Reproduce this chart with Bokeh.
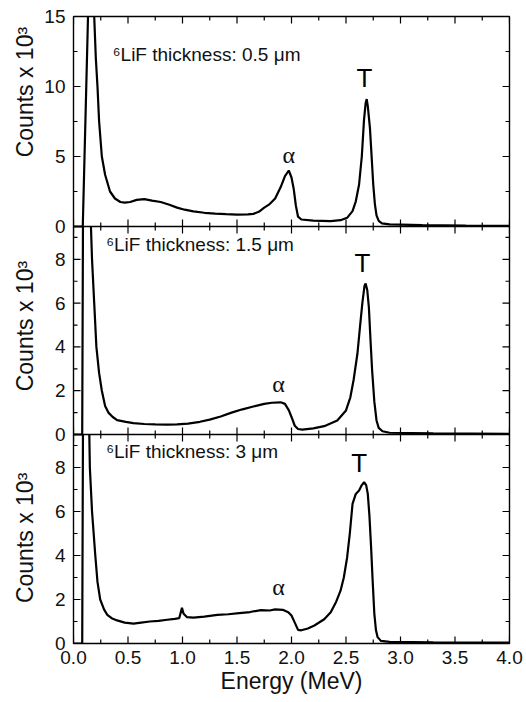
import math
from bokeh.plotting import figure
from bokeh.models import (Range1d, LinearAxis, FixedTicker, Label, Span, PrintfTickFormatter)
from bokeh.embed import file_html
from bokeh.resources import INLINE

# ---------------- data ----------------
energy_05 = [0.0, 0.085, 0.13, 0.16, 0.19, 0.205, 0.22, 0.235, 0.26, 0.29, 0.335, 0.38, 0.43, 0.47,
             0.52, 0.58, 0.65, 0.72, 0.80, 0.88, 0.95, 1.02, 1.10, 1.20, 1.30, 1.40, 1.50, 1.60,
             1.65, 1.70, 1.75, 1.80, 1.85, 1.90, 1.94, 1.975, 2.00, 2.02, 2.04, 2.06, 2.09, 2.20,
             2.36, 2.45, 2.51, 2.56, 2.59, 2.62, 2.645, 2.665, 2.68, 2.69, 2.70, 2.72, 2.735,
             2.75, 2.765, 2.78, 2.80, 2.83, 2.90, 3.20, 3.60, 4.00]
counts_05 = [0.0, 0.0, 14.0, 24.0, 15.0, 12.0, 10.0, 7.5, 5.0, 3.7, 2.5, 2.0, 1.75, 1.7,
             1.75, 1.9, 1.95, 1.85, 1.75, 1.55, 1.35, 1.2, 1.08, 0.98, 0.92, 0.88, 0.85, 0.86,
             0.9, 1.05, 1.35, 1.6, 2.0, 2.8, 3.6, 4.0, 3.5, 2.7, 1.5, 0.7, 0.5, 0.42,
             0.38, 0.45, 0.62, 1.1, 1.8, 3.0, 5.0, 7.6, 8.8, 9.1, 8.6, 7.0, 5.0,
             3.0, 1.6, 0.8, 0.4, 0.22, 0.15, 0.1, 0.06, 0.05]

energy_15 = [0.0, 0.08, 0.09, 0.12, 0.16, 0.17, 0.19, 0.21, 0.235, 0.26, 0.29, 0.32, 0.36, 0.40,
             0.48, 0.55, 0.65, 0.75, 0.86, 0.95, 1.05, 1.16, 1.25, 1.35, 1.45, 1.55, 1.65, 1.75,
             1.82, 1.90, 1.94, 1.976, 2.00, 2.03, 2.06, 2.10, 2.20, 2.30, 2.42, 2.50, 2.54, 2.57,
             2.605, 2.63, 2.65, 2.67, 2.68, 2.695, 2.71, 2.725, 2.74, 2.76, 2.78, 2.80, 2.835,
             2.90, 3.30, 4.00]
counts_15 = [0.0, 0.0, 14.0, 20.0, 9.5, 8.0, 6.0, 4.0, 2.8, 2.0, 1.3, 1.0, 0.8, 0.66,
             0.58, 0.52, 0.48, 0.46, 0.45, 0.46, 0.5, 0.58, 0.68, 0.82, 1.0, 1.15, 1.28, 1.4,
             1.45, 1.47, 1.4, 1.1, 0.8, 0.4, 0.25, 0.22, 0.28, 0.38, 0.64, 1.1, 1.7, 2.5,
             3.7, 5.0, 6.0, 6.8, 6.9, 6.6, 5.8, 4.3, 2.9, 1.5, 0.64, 0.3, 0.15,
             0.08, 0.05, 0.03]

energy_3 = [0.0, 0.08, 0.09, 0.115, 0.145, 0.15, 0.17, 0.20, 0.22, 0.245, 0.28, 0.31, 0.35, 0.40,
            0.47, 0.55, 0.62, 0.70, 0.78, 0.86, 0.93, 0.97, 0.995, 1.01, 1.04, 1.10, 1.20, 1.32,
            1.42, 1.52, 1.62, 1.72, 1.80, 1.85, 1.92, 1.97, 2.00, 2.03, 2.06, 2.09, 2.15, 2.21,
            2.30, 2.36, 2.41, 2.45, 2.48, 2.51, 2.535, 2.56, 2.59, 2.62, 2.645, 2.666, 2.685,
            2.70, 2.715, 2.73, 2.745, 2.76, 2.775, 2.79, 2.82, 2.90, 3.30, 4.00]
counts_3 = [0.0, 0.0, 14.0, 20.0, 9.5, 8.0, 6.0, 4.0, 2.8, 2.0, 1.55, 1.3, 1.15, 1.05,
            0.95, 0.9, 0.95, 1.0, 1.03, 1.08, 1.12, 1.15, 1.62, 1.35, 1.2, 1.18, 1.22, 1.3,
            1.33, 1.38, 1.43, 1.52, 1.5, 1.55, 1.53, 1.42, 1.27, 0.95, 0.62, 0.6, 0.68, 0.82,
            1.1, 1.42, 1.9, 2.4, 3.0, 3.9, 5.0, 6.35, 6.8, 6.95, 7.2, 7.33, 7.2,
            6.8, 5.8, 4.4, 2.8, 1.35, 0.6, 0.29, 0.12, 0.07, 0.05, 0.04]

panel_titles = ["\u2076LiF thickness: 0.5 \u03bcm",
                "\u2076LiF thickness: 1.5 \u03bcm",
                "\u2076LiF thickness: 3 \u03bcm"]
peak_names = ["\u03b1", "T"]
y_max = [15, 9.5, 9.5]
y_major_ticks = [[0, 5, 10, 15], [0, 2, 4, 6, 8], [0, 2, 4, 6, 8]]
y_minor_ticks = [[2.5, 7.5, 12.5], [1, 3, 5, 7, 9], [1, 3, 5, 7, 9]]
x_major_ticks = [0.0, 0.5, 1.0, 1.5, 2.0, 2.5, 3.0, 3.5, 4.0]
x_minor_ticks = [0.25, 0.75, 1.25, 1.75, 2.25, 2.75, 3.25, 3.75]
x_label = "Energy (MeV)"
y_label = "Counts x 10\u00b3"

# ---------------- layout / style ----------------
FONT = "Liberation Sans"
PANEL_H = [210, 208, 209]          # frame pixel height of each stacked panel (top -> bottom)
FRAME_W = 436
FRAME_H = sum(PANEL_H)
RANGE_NAMES = ["default", "mid", "bot"]
YLABEL_CENTER = [9.6, 4.95, 4.8]   # where each panel's y title is centred (panel units)

# pixel offset (from frame bottom) of each panel's zero line
base_px = [PANEL_H[2] + PANEL_H[1], PANEL_H[2], 0]
unit_px = [PANEL_H[i] / y_max[i] for i in range(3)]


def panel_range(i):
    start = -base_px[i] / unit_px[i]
    end = (FRAME_H - base_px[i]) / unit_px[i]
    return Range1d(start, end)


def to_default(i, v):
    """value v of panel i expressed in the coordinates of the default (top-panel) range"""
    pix = base_px[i] + v * unit_px[i]
    return round((pix - base_px[0]) / unit_px[0], 6)


def clip_above(xs, ys, top):
    """geometrically clip a polyline at y = top (NaN breaks where it leaves the panel)"""
    ox, oy = [], []
    for k in range(len(xs)):
        x, y = xs[k], ys[k]
        if k > 0:
            x0, y0 = xs[k - 1], ys[k - 1]
            if (y0 > top) != (y > top):
                t = (top - y0) / (y - y0)
                ox.append(x0 + t * (x - x0))
                oy.append(top)
                if y > top:
                    ox.append(math.nan)
                    oy.append(math.nan)
        if y <= top:
            ox.append(x)
            oy.append(y)
    return ox, oy


p = figure(frame_width=FRAME_W, frame_height=FRAME_H,
           x_range=Range1d(0, 4), y_range=panel_range(0),
           x_axis_location=None, y_axis_location=None,
           toolbar_location=None, output_backend="svg",
           min_border_left=73, min_border_right=15, min_border_top=16, min_border_bottom=0)
p.extra_y_ranges = {"mid": panel_range(1), "bot": panel_range(2)}
p.grid.visible = False
p.outline_line_color = "black"
p.outline_line_width = 1.4
p.background_fill_color = "white"
p.border_fill_color = "white"


def bare_axis(ax):
    ax.axis_line_color = None
    ax.major_tick_line_color = None
    ax.minor_tick_line_color = None
    ax.major_tick_out = 0
    ax.major_tick_in = 0
    ax.minor_tick_out = 0
    ax.minor_tick_in = 0


# left axis 1: tick labels of all three panels
tick_pos, tick_txt = [], {}
for i in range(3):
    for v in y_major_ticks[i]:
        pos = to_default(i, v)
        tick_pos.append(pos)
        tick_txt[pos] = str(v)
left = LinearAxis(ticker=FixedTicker(ticks=tick_pos, minor_ticks=[]))
left.major_label_overrides = tick_txt
bare_axis(left)
left.major_label_standoff = 8
left.major_label_text_font = FONT
left.major_label_text_font_size = "19px"
left.major_label_text_color = "#111111"
p.add_layout(left, "left")

# left axis 2 (outer): one "Counts x 10^3" title per panel
title_pos_y, title_txt = [], {}
for i in range(3):
    pos = to_default(i, YLABEL_CENTER[i])
    title_pos_y.append(pos)
    title_txt[pos] = y_label
left2 = LinearAxis(ticker=FixedTicker(ticks=title_pos_y, minor_ticks=[]))
left2.major_label_overrides = title_txt
bare_axis(left2)
left2.major_label_orientation = "parallel"
left2.major_label_standoff = 3
left2.major_label_text_font = FONT
left2.major_label_text_font_size = "23px"
left2.major_label_text_color = "#111111"
p.add_layout(left2, "left")

below = LinearAxis(ticker=FixedTicker(ticks=x_major_ticks, minor_ticks=[]),
                   formatter=PrintfTickFormatter(format="%.1f"))
bare_axis(below)
below.major_label_standoff = 7
below.major_label_text_font = FONT
below.major_label_text_font_size = "19px"
below.major_label_text_color = "#111111"
below.axis_label = x_label
below.axis_label_text_font = FONT
below.axis_label_text_font_size = "23px"
below.axis_label_text_font_style = "normal"
below.axis_label_text_color = "#111111"
below.axis_label_standoff = 1
p.add_layout(below, "below")

# boundaries between the stacked panels
for i in range(2):
    p.add_layout(Span(location=0, dimension="width", y_range_name=RANGE_NAMES[i],
                      line_color="black", line_width=1.4))

# inward tick marks (dash markers centred on the edges; the frame clips the outer half)
TICK_KW = dict(marker="dash", line_color="black", line_width=1.2)
for i in range(3):
    rn = RANGE_NAMES[i]
    edges = [0.0] + ([y_max[i]] if i == 0 else [])
    for e in edges:
        p.scatter(x_major_ticks, [e] * len(x_major_ticks), size=14, angle=math.pi / 2,
                  y_range_name=rn, **TICK_KW)
        p.scatter(x_minor_ticks, [e] * len(x_minor_ticks), size=8, angle=math.pi / 2,
                  y_range_name=rn, **TICK_KW)
    for xe in (0.0, 4.0):
        p.scatter([xe] * len(y_major_ticks[i]), y_major_ticks[i], size=14,
                  y_range_name=rn, **TICK_KW)
        p.scatter([xe] * len(y_minor_ticks[i]), y_minor_ticks[i], size=8,
                  y_range_name=rn, **TICK_KW)

# spectra
series = [(energy_05, counts_05), (energy_15, counts_15), (energy_3, counts_3)]
for i, (ex, cy) in enumerate(series):
    cx, cc = clip_above(ex, cy, y_max[i])
    p.line(cx, cc, line_color="black", line_width=2.2, y_range_name=RANGE_NAMES[i])

# texts
title_pos = [(0.36, 12.3), (0.30, 8.7), (0.30, 8.74)]
alpha_pos = [(1.975, 5.1), (1.88, 2.3), (1.88, 2.55)]
t_pos = [(2.67, 10.6), (2.65, 7.85), (2.62, 8.2)]
for i in range(3):
    rn = RANGE_NAMES[i]
    p.add_layout(Label(x=title_pos[i][0], y=title_pos[i][1], y_range_name=rn,
                       text=panel_titles[i], text_font=FONT, text_font_size="19px",
                       text_color="#111111", text_align="left", text_baseline="middle"))
    p.add_layout(Label(x=alpha_pos[i][0], y=alpha_pos[i][1], y_range_name=rn,
                       text=peak_names[0], text_font="Liberation Serif", text_font_size="24px",
                       text_color="#111111", text_align="center", text_baseline="middle"))
    p.add_layout(Label(x=t_pos[i][0], y=t_pos[i][1], y_range_name=rn,
                       text=peak_names[1], text_font=FONT, text_font_size="26px",
                       text_color="black", text_align="center", text_baseline="middle"))

open("out.html", "w").write(file_html(p, INLINE))
